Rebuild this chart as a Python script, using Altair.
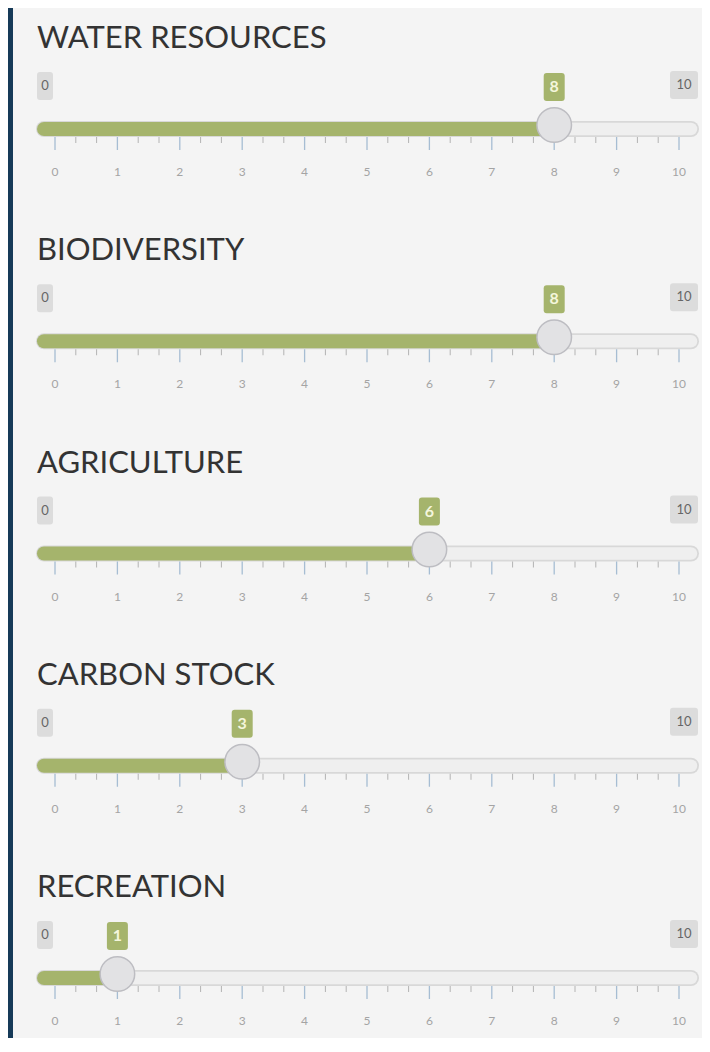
import altair as alt
import pandas as pd

# ---------------- data ----------------
categories = ["WATER RESOURCES", "BIODIVERSITY", "AGRICULTURE", "CARBON STOCK", "RECREATION"]
values = [8, 8, 6, 3, 1]
min_label = "0"
max_label = "10"
major_ticks = [0, 1, 2, 3, 4, 5, 6, 7, 8, 9, 10]
tick_labels = ["0", "1", "2", "3", "4", "5", "6", "7", "8", "9", "10"]
minor_ticks = [1/3, 2/3, 4/3, 5/3, 7/3, 8/3, 10/3, 11/3, 13/3, 14/3,
               16/3, 17/3, 19/3, 20/3, 22/3, 23/3, 25/3, 26/3, 28/3, 29/3]

# ---------------- style ----------------
W, H = 694, 1030
TRACK_Y = [121, 970]
X_RANGE = [47, 671]
GREEN = "#a5b46c"
BG = "#f4f4f4"
NAVY = "#163a58"
FONT = "Lato"


def rounded_rect_path(w, h, r):
    # unit box: height maps to [-1, 1]
    s = h / 2.0
    hw, hh, rr = w / 2.0 / s, 1.0, r / s
    return (f"M{-hw+rr:.3f},{-hh:.3f} H{hw-rr:.3f} Q{hw:.3f},{-hh:.3f} {hw:.3f},{-hh+rr:.3f} "
            f"V{hh-rr:.3f} Q{hw:.3f},{hh:.3f} {hw-rr:.3f},{hh:.3f} H{-hw+rr:.3f} "
            f"Q{-hw:.3f},{hh:.3f} {-hw:.3f},{hh-rr:.3f} V{-hh+rr:.3f} "
            f"Q{-hw:.3f},{-hh:.3f} {-hw+rr:.3f},{-hh:.3f} Z")


BADGE_H = 28
path_min = rounded_rect_path(16, BADGE_H, 3)
path_max = rounded_rect_path(28, BADGE_H, 3)
path_val = rounded_rect_path(21, BADGE_H, 3)

sliders = pd.DataFrame({
    "category": categories,
    "value": values,
    "min_label": [min_label] * len(categories),
    "max_label": [max_label] * len(categories),
})
major = pd.DataFrame([{"category": c, "tick": t, "label": l}
                      for c in categories for t, l in zip(major_ticks, tick_labels)])
minor = pd.DataFrame([{"category": c, "tick": t} for c in categories for t in minor_ticks])

yenc = alt.Y("category:N",
             scale=alt.Scale(type="point", domain=categories, range=TRACK_Y, padding=0),
             axis=None)


def xenc(field):
    return alt.X(f"{field}:Q", scale=alt.Scale(domain=[0, 10], range=X_RANGE, nice=False, zero=False), axis=None)


border = alt.Chart(pd.DataFrame({"a": [0]})).mark_rect(color=NAVY).encode(
    x=alt.value(0), x2=alt.value(5), y=alt.value(0), y2=alt.value(H))

track_outer = alt.Chart(sliders).mark_rule(strokeWidth=16, strokeCap="round", color="#d8d8d8").encode(
    y=yenc, x=alt.value(36), x2=alt.value(683))
track_inner = alt.Chart(sliders).mark_rule(strokeWidth=12.5, strokeCap="round", color="#efefef").encode(
    y=yenc, x=alt.value(36), x2=alt.value(683))
fill = alt.Chart(sliders).mark_rule(strokeWidth=14, strokeCap="round", color=GREEN).encode(
    y=yenc, x=xenc("value"), x2=alt.value(36))

minor_t = alt.Chart(minor).mark_tick(size=6, thickness=1, color="#b3b3b3", yOffset=11, opacity=1).encode(
    x=xenc("tick"), y=yenc)
major_t = alt.Chart(major).mark_tick(size=13, thickness=1.3, color="#a6bdd3", yOffset=14.5, opacity=1).encode(
    x=xenc("tick"), y=yenc)
labels = alt.Chart(major).mark_text(fontSize=12, color="#a4a4a4", yOffset=43, baseline="middle",
                                    align="center", font=FONT).encode(
    x=xenc("tick"), y=yenc, text="label:N")

titles = alt.Chart(sliders).mark_text(align="left", baseline="alphabetic", fontSize=31, color="#333333",
                                      yOffset=-81, font=FONT).encode(
    x=alt.value(29), y=yenc, text="category:N")

min_badge = alt.Chart(sliders).mark_point(shape=path_min, size=BADGE_H ** 2, filled=True, fill="#dcdcdc",
                                          opacity=1, yOffset=-43).encode(x=alt.value(37), y=yenc)
min_text = alt.Chart(sliders).mark_text(fontSize=13, color="#666666", yOffset=-43, baseline="middle",
                                        font=FONT).encode(x=alt.value(37), y=yenc, text="min_label:N")
max_badge = alt.Chart(sliders).mark_point(shape=path_max, size=BADGE_H ** 2, filled=True, fill="#dcdcdc",
                                          opacity=1, yOffset=-44).encode(x=alt.value(676), y=yenc)
max_text = alt.Chart(sliders).mark_text(fontSize=13, color="#666666", yOffset=-44, baseline="middle",
                                        font=FONT).encode(x=alt.value(676), y=yenc, text="max_label:N")

thumb = alt.Chart(sliders).mark_circle(size=1195, fill="#e2e2e4", stroke="#bdbdc2", strokeWidth=1.5,
                                       opacity=1, yOffset=-4).encode(x=xenc("value"), y=yenc)
val_badge = alt.Chart(sliders).mark_point(shape=path_val, size=BADGE_H ** 2, filled=True, fill=GREEN,
                                          opacity=1, yOffset=-42).encode(x=xenc("value"), y=yenc)
val_text = alt.Chart(sliders).mark_text(fontSize=16, fontWeight="bold", color="#f4f6dc", yOffset=-42,
                                        baseline="middle", font=FONT).encode(
    x=xenc("value"), y=yenc, text="value:N")

chart = alt.layer(
    border, track_outer, track_inner, fill, minor_t, major_t, labels, titles,
    min_badge, min_text, max_badge, max_text, thumb, val_badge, val_text
).properties(
    width=W, height=H, padding=0, autosize=alt.AutoSizeParams(type="none")
).configure(background=BG).configure_view(stroke=None)

chart.save("out.html", embed_options={"renderer": "svg", "actions": False})
